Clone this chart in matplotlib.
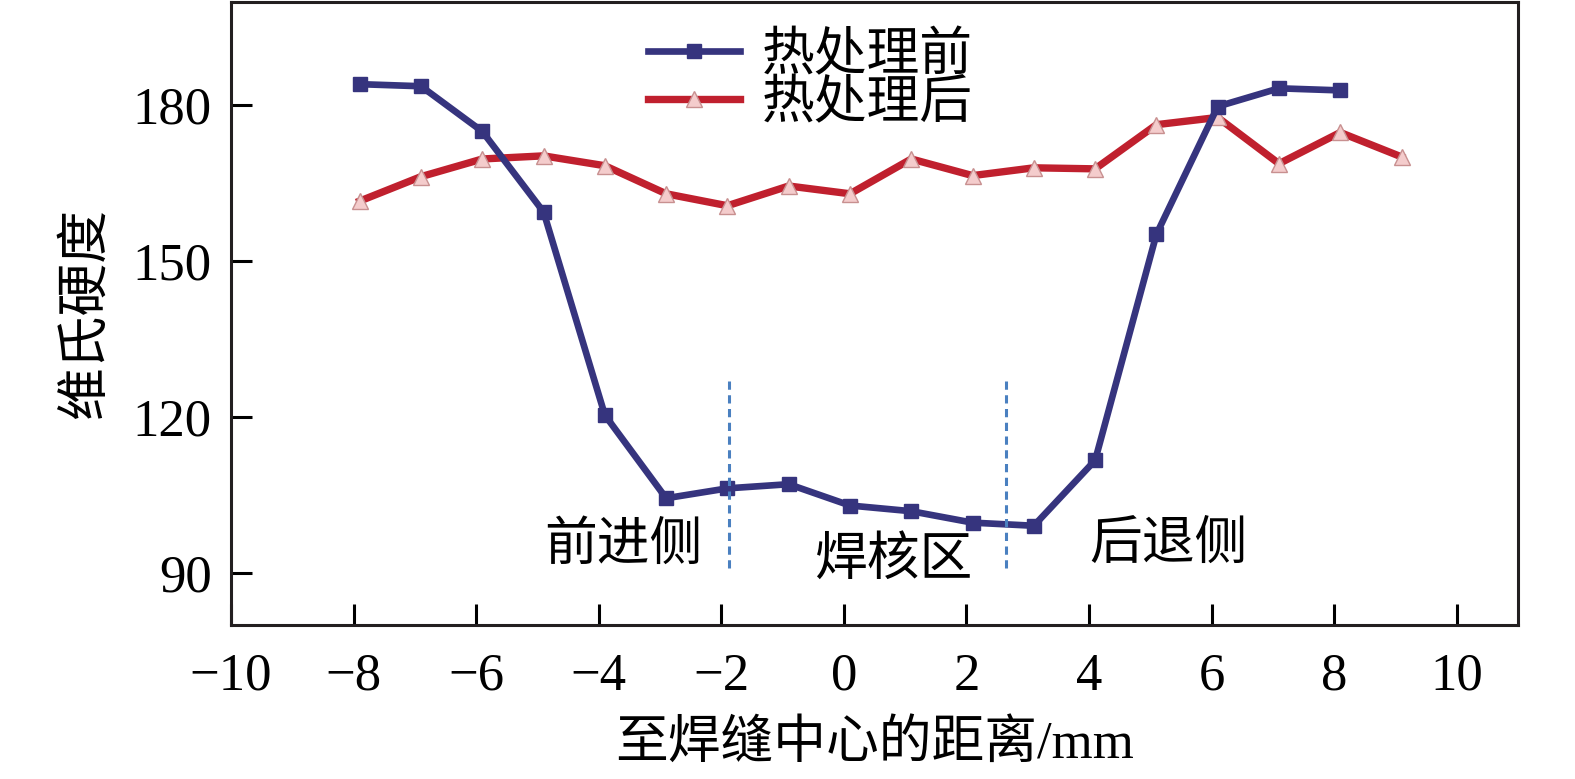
import matplotlib
matplotlib.use('Agg')
import matplotlib.pyplot as plt

plt.rcParams['font.family'] = ['Liberation Serif', 'Noto Sans CJK SC']
plt.rcParams['axes.unicode_minus'] = True

# 数据
x_before = [-7.9, -6.9, -5.9, -4.9, -3.9, -2.9, -1.9, -0.9, 0.1, 1.1, 2.1, 3.1, 4.1, 5.1, 6.1, 7.1, 8.1]
hv_before = [184.1, 183.7, 175.0, 159.5, 120.4, 104.4, 106.3, 107.1, 103.0, 101.9, 99.7, 99.1, 111.7, 155.2, 179.8, 183.3, 182.9]

x_after = [-7.9, -6.9, -5.9, -4.9, -3.9, -2.9, -1.9, -0.9, 0.1, 1.1, 2.1, 3.1, 4.1, 5.1, 6.1, 7.1, 8.1, 9.1]
hv_after = [161.6, 166.3, 169.7, 170.3, 168.4, 163.0, 160.7, 164.5, 163.0, 169.7, 166.5, 168.0, 167.8, 176.3, 177.7, 168.8, 174.8, 170.1]

zone_bounds = [-1.88, 2.65]
zone_labels = ['前进侧', '焊核区', '后退侧']
zone_label_x = [-3.6, 0.8, 5.3]
zone_label_y = [95.2, 92.3, 95.2]

x_ticks = [-10, -8, -6, -4, -2, 0, 2, 4, 6, 8, 10]
y_ticks = [90, 120, 150, 180]

fig = plt.figure(figsize=(15.75, 7.79), dpi=100)
ax = fig.add_axes([0.1467, 0.1977, 0.8171, 0.8003])

ax.plot(x_before, hv_before, color='#36347e', lw=4.8, marker='s', ms=10,
        mfc='#36347e', mec='#36347e', label='热处理前', zorder=3)
ax.plot(x_after, hv_after, color='#c0202e', lw=5.3, marker='^', ms=12,
        mfc='#f4cccc', mec='#c89090', mew=1.0, label='热处理后', zorder=2)

for xb in zone_bounds:
    ax.vlines(xb, 91, 127.8, colors='#4a80c0', linestyles=(0, (2.7, 1.8)), lw=2.2, zorder=4)

for lab, lx, ly in zip(zone_labels, zone_label_x, zone_label_y):
    ax.text(lx, ly, lab, fontsize=38, ha='center', va='center')

ax.set_xlim(-10, 11)
ax.set_ylim(80, 200)
ax.set_xticks(x_ticks)
ax.set_yticks(y_ticks)
ax.tick_params(direction='in', length=15, width=2.2, labelsize=38, pad=20)
ax.tick_params(axis='y', pad=14)
for s in ax.spines.values():
    s.set_linewidth(2.2)
    s.set_color('#231f20')

ax.set_xlabel('至焊缝中心的距离/mm', fontsize=38, labelpad=14)
ax.set_ylabel('维氏硬度', fontsize=38, labelpad=16)

leg = ax.legend(loc='upper center', bbox_to_anchor=(0.45, 1.028), frameon=False,
                fontsize=38, numpoints=1, labelspacing=-0.02, handlelength=1.75,
                handletextpad=0.4)

fig.savefig('out.png', dpi=100)
